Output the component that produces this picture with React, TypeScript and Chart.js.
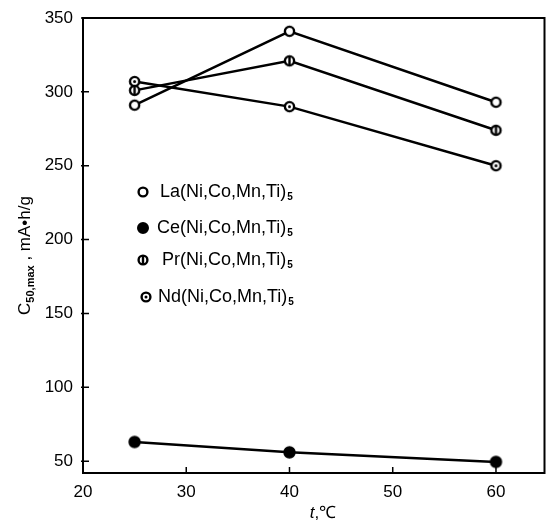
import React, { useEffect, useRef } from "react";
import { Chart, registerables } from "chart.js";

Chart.register(...registerables);

// ---- data ----
const temperatures = [25, 40, 60];
const laValues = [291, 341, 293];
const ceValues = [63, 56, 49.5];
const prValues = [301, 321, 274];
const ndValues = [307, 290, 250];
const xTicks = [20, 30, 40, 50, 60];
const yTicks = [50, 100, 150, 200, 250, 300, 350];
const seriesLabels = ["La(Ni,Co,Mn,Ti)", "Ce(Ni,Co,Mn,Ti)", "Pr(Ni,Co,Mn,Ti)", "Nd(Ni,Co,Mn,Ti)"];
const seriesSubscript = "5";
const markerTypes = ["open", "filled", "bar", "dot"];

const FONT = '"Liberation Sans", Arial, Helvetica, sans-serif';

function drawMarker(ctx: CanvasRenderingContext2D, type: string, x: number, y: number, r: number) {
  ctx.save();
  ctx.lineWidth = 2.4;
  ctx.strokeStyle = "#000";
  ctx.beginPath();
  ctx.arc(x, y, r, 0, Math.PI * 2);
  if (type === "filled") {
    ctx.fillStyle = "#000";
    ctx.fill();
    ctx.stroke();
  } else {
    ctx.fillStyle = "#fff";
    ctx.fill();
    ctx.stroke();
  }
  if (type === "bar") {
    ctx.beginPath();
    ctx.moveTo(x, y - r);
    ctx.lineTo(x, y + r);
    ctx.stroke();
  }
  if (type === "dot") {
    ctx.beginPath();
    ctx.arc(x, y, 1.5, 0, Math.PI * 2);
    ctx.fillStyle = "#000";
    ctx.fill();
  }
  ctx.restore();
}

function makeMarkerCanvas(type: string, r: number) {
  const size = Math.ceil(2 * r + 5);
  const c = document.createElement("canvas");
  c.width = size;
  c.height = size;
  const ctx = c.getContext("2d")!;
  drawMarker(ctx, type, size / 2, size / 2, r);
  return c;
}

const decorPlugin = {
  id: "decor",
  afterDraw(chart: any) {
    const { ctx, chartArea, scales } = chart;
    const xs = scales.x;
    const ys = scales.y;
    ctx.save();
    // frame
    ctx.strokeStyle = "#000";
    ctx.lineWidth = 2;
    ctx.strokeRect(chartArea.left, chartArea.top, chartArea.right - chartArea.left, chartArea.bottom - chartArea.top);
    // inward ticks
    ctx.lineWidth = 1.5;
    ctx.beginPath();
    for (const v of yTicks) {
      const py = ys.getPixelForValue(v);
      ctx.moveTo(chartArea.left - 2, py);
      ctx.lineTo(chartArea.left + 6, py);
    }
    for (const v of xTicks) {
      const px = xs.getPixelForValue(v);
      ctx.moveTo(px, chartArea.bottom + 1);
      ctx.lineTo(px, chartArea.bottom - 6);
    }
    ctx.stroke();

    // legend
    const lx = chartArea.left + 60;
    const rows = [174, 210, 242, 279];
    const textOffsets = [17, 14, 19, 15];
    const markerOffsets = [0, 0, 0, 3];
    ctx.fillStyle = "#000";
    ctx.textBaseline = "middle";
    rows.forEach((dy, i) => {
      const y = chartArea.top + dy;
      drawMarker(ctx, markerTypes[i], lx + markerOffsets[i], y, markerTypes[i] === "filled" ? 4.8 : 4.4);
      ctx.font = `18px ${FONT}`;
      const tx = lx + textOffsets[i];
      ctx.fillStyle = "#000";
      ctx.fillText(seriesLabels[i], tx, y);
      const w = ctx.measureText(seriesLabels[i]).width;
      ctx.font = `bold 10px ${FONT}`;
      ctx.fillText(seriesSubscript, tx + w + 1, y + 5);
    });

    // y title
    ctx.save();
    ctx.translate(24, (chartArea.top + chartArea.bottom) / 2 + 10);
    ctx.rotate(-Math.PI / 2);
    ctx.textBaseline = "alphabetic";
    const p1 = "C";
    const p2 = "50,max";
    const p3 = " , mA\u2022h/g";
    ctx.font = `17px ${FONT}`;
    const w1 = ctx.measureText(p1).width;
    ctx.font = `bold 11px ${FONT}`;
    const w2 = ctx.measureText(p2).width;
    ctx.font = `17px ${FONT}`;
    const w3 = ctx.measureText(p3).width;
    let sx = -(w1 + w2 + w3) / 2;
    const base = 6;
    ctx.font = `17px ${FONT}`;
    ctx.fillText(p1, sx, base);
    sx += w1;
    ctx.font = `bold 11px ${FONT}`;
    ctx.fillText(p2, sx, base + 4);
    sx += w2;
    ctx.font = `17px ${FONT}`;
    ctx.fillText(p3, sx, base);
    ctx.restore();

    // x title
    ctx.textBaseline = "middle";
    const xt1 = "t";
    const xt2 = ",\u2103";
    ctx.font = `italic 17px ${FONT}`;
    const xw1 = ctx.measureText(xt1).width;
    ctx.font = `17px ${FONT}`;
    const xw2 = ctx.measureText(xt2).width;
    let xx = 323 - (xw1 + xw2) / 2;
    const xy = 513;
    ctx.font = `italic 17px ${FONT}`;
    ctx.fillText(xt1, xx, xy);
    xx += xw1;
    ctx.font = `17px ${FONT}`;
    ctx.fillText(xt2, xx, xy);

    ctx.restore();
  },
};

export default function App() {
  const canvasRef = useRef<HTMLCanvasElement | null>(null);

  useEffect(() => {
    if (!canvasRef.current) return;
    const toPoints = (vals: number[]) => temperatures.map((t, i) => ({ x: t, y: vals[i] }));
    const all = [laValues, ceValues, prValues, ndValues];
    const datasets = all.map((vals, i) => ({
      label: seriesLabels[i],
      data: toPoints(vals),
      borderColor: "#000",
      backgroundColor: "#000",
      borderWidth: 2.5,
      pointStyle: makeMarkerCanvas(markerTypes[i], markerTypes[i] === "filled" ? 5 : 4.6) as any,
      pointRadius: 5,
      showLine: true,
      tension: 0,
      fill: false,
    }));

    const chart = new Chart(canvasRef.current, {
      type: "scatter",
      data: { datasets },
      options: {
        responsive: false,
        animation: false,
        devicePixelRatio: 1,
        layout: { padding: { top: 18, right: 2, left: 0, bottom: 0 } },
        plugins: { legend: { display: false }, tooltip: { enabled: false } },
        scales: {
          x: {
            type: "linear",
            min: 20,
            max: 64.7,
            grid: { display: false, drawTicks: false },
            border: { display: false },
            afterBuildTicks: (s: any) => {
              s.ticks = xTicks.map((v) => ({ value: v }));
            },
            afterFit: (s: any) => {
              s.height = 50;
              s.paddingLeft = 0;
              s.paddingRight = 0;
            },
            ticks: {
              font: { size: 17, family: FONT },
              color: "#000",
              padding: 9,
              maxRotation: 0,
              autoSkip: false,
            },
          },
          y: {
            type: "linear",
            min: 42,
            max: 350,
            grid: { display: false, drawTicks: false },
            border: { display: false },
            afterBuildTicks: (s: any) => {
              s.ticks = yTicks.map((v) => ({ value: v }));
            },
            afterFit: (s: any) => {
              s.width = 83;
              s.paddingTop = 0;
              s.paddingBottom = 0;
            },
            ticks: {
              font: { size: 17, family: FONT },
              color: "#000",
              padding: 10,
              autoSkip: false,
            },
          },
        },
      },
      plugins: [decorPlugin],
    });
    return () => chart.destroy();
  }, []);

  return (
    <div style={{ position: "absolute", left: 0, top: 0, width: 552, height: 523, background: "#fff" }}>
      <canvas ref={canvasRef} width={552} height={523} />
    </div>
  );
}
